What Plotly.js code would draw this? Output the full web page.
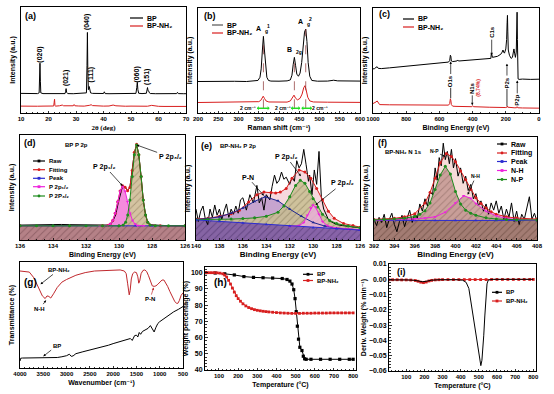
<!DOCTYPE html>
<html><head><meta charset="utf-8">
<script src="https://cdn.plot.ly/plotly-3.0.1.min.js"></script>
<style>html,body{margin:0;padding:0;background:#fff}#chart{width:554px;height:394px}</style>
</head><body><div id="chart"></div>
<script>
// ---------------- DATA ----------------
// (a) XRD, 2theta (deg) vs intensity (a.u., 0-100)
const xrdBP = [[10,18.5],[12,18.2],[14,18.4],[16,18.3],[16.6,19],[16.75,30],[16.9,47],[17.05,30],[17.2,19],[18,18.3],[20,18.2],[22,18.4],[24,18.2],[26,18.3],[26.2,20],[26.4,23],[26.6,19.5],[27,18.3],[29,18.2],[31,18.4],[33,18.5],[33.8,19],[34.0,45],[34.15,76],[34.3,40],[34.5,22],[34.8,25],[35.0,21],[35.3,19],[36,18.5],[38,18.3],[40,18.4],[40.3,20],[40.6,18.3],[42,18.2],[44,18.3],[46,18.2],[48,18.3],[50,18.2],[51.8,18.5],[52.1,24],[52.3,29],[52.5,22],[52.8,18.6],[54,18.3],[55.6,18.6],[55.85,22],[56.0,24],[56.2,21],[56.5,20.5],[56.7,19],[57,18.4],[59,18.2],[61,18.3],[63,18.2],[65,18.3],[66.6,18.3],[66.9,19.5],[67.2,18.3],[69,18.2],[70,18.2]];
const xrdNH = [[10,6.5],[12,6.3],[14,6.6],[16,6.4],[18,6.5],[20,6.4],[21.9,6.6],[22.05,10],[22.2,13],[22.35,7],[22.6,6.5],[24,6.8],[25,7.5],[25.5,6.8],[27,6.6],[29,6.8],[29.3,8],[29.6,6.8],[31,6.6],[33,6.5],[35,7.3],[35.5,7.8],[36,7],[38,6.6],[40,6.5],[42,6.6],[43.5,7.5],[44.5,6.8],[46,6.5],[48,6.4],[50,6.5],[52,6.4],[54,6.3],[56,6.4],[57.5,7.2],[58.5,6.6],[60,6.3],[62,6.2],[64,6.3],[66,6.2],[68,6.3],[70,6.2]];
const xrdPeakLabels = ['(020)','(021)','(040)','(111)','(060)','(151)'];
const xrdPeakPos = [[16.9,55],[26.4,33],[34.1,86],[35.3,36],[52.1,36],[55.8,34]];

// (b) Raman
const ramanBP = [[200,30],[230,30.3],[260,30],[290,30.2],[320,30],[340,30.3],[348,31],[353,34],[356,42],[359,60],[361.5,73],[364,60],[367,42],[370,34],[374,31],[380,30.4],[400,30.3],[420,30.6],[428,31.5],[432,36],[435,46],[438,53],[441,45],[444,37],[448,35],[452,38],[456,48],[460,66],[463,77],[466,80],[469,68],[472,48],[476,35],[481,31],[495,30.3],[520,30.4],[535,31.2],[545,30.6],[570,30.2],[600,30.4]];
const ramanNH = [[200,10],[250,10.2],[300,10],[335,10.2],[350,10.8],[355,12],[358,14.5],[361,16],[364,14],[368,11.5],[375,10.5],[400,10.3],[420,10.4],[428,11.5],[433,14.5],[437,17],[441,14],[446,12.5],[452,14],[457,18],[461,24],[464,26],[467,22],[471,15],[476,11.5],[485,10.5],[520,10.3],[560,10.2],[600,10.1]];
const ramanModeMain = ['A','B','A'];
const ramanModeSub = ['g','2g','g'];
const ramanModeSup = ['1','','2'];
const ramanModePos = [[361.5,73],[438,53],[466,80]];

// (c) XPS survey
const surveyBP = [[1000,42],[990,42.3],[982,43.5],[975,44],[968,42.5],[950,42.3],[900,43],[800,44.5],[700,46],[600,47.5],[545,48.5],[538,50],[534,55],[531,54],[528,49.5],[520,49],[495,49.5],[490,50.5],[485,49.5],[450,50],[400,50.5],[350,51],[300,51.5],[290,52],[287,57],[284,54],[280,53],[250,54],[230,56],[222,58],[217,60],[213,58],[208,57],[200,61],[195,70],[192,86],[190,93],[188,78],[185,60],[178,55],[168,52],[160,53],[155,58],[151,61],[147,57],[142,53],[137,58],[134,80],[132,96],[130,70],[128,40],[126,32.5],[120,32],[100,32.3],[50,32],[0,32.2]];
const surveyNH = [[1000,9],[990,9.5],[982,10.5],[975,11.5],[968,9.5],[960,8],[900,7.8],[800,7.6],[700,7.4],[600,7.3],[545,7.5],[538,9],[534,13.5],[531,12],[528,8],[520,6.5],[500,6.3],[450,6],[405,6],[400,7],[395,6],[300,5.5],[250,5.3],[200,5.2],[192,5.8],[190,6.5],[188,5.5],[150,5],[135,5],[132,6],[128,5],[100,4.8],[0,4.6]];

// (d) BP P 2p
const dBase = [[136,13.5],[126,13.5]];
const dPeak = [[136,13.5],[134,13.5],[132,13.5],[130,13.5],[129,13.5],[128,13.5],[126,13.5]];
const dRaw = [[136,14.2],[135.5,14.4],[135,14.3],[134.5,14.6],[134,14.5],[133.5,14.8],[133,14.6],[132.5,14.4],[132,14.2],[131.5,14],[131,13.8],[130.6,14.2],[130.4,17],[130.2,24],[130.05,35],[129.9,45],[129.78,51.5],[129.63,50.5],[129.48,47],[129.34,50],[129.2,66],[129.07,83],[128.93,91],[128.8,81],[128.66,60],[128.53,38],[128.39,24],[128.26,17],[128.1,14.5],[127.6,13.8],[127,13.6],[126.5,13.5],[126,13.5]];
const dFit = [[136,13.5],[131,13.6],[130.68,13.9],[130.53,15.2],[130.38,18.6],[130.23,25.5],[130.08,36.4],[129.93,46.7],[129.78,51.7],[129.63,50.3],[129.48,46.8],[129.34,50.1],[129.2,66.1],[129.07,83.6],[128.93,91.1],[128.8,81.3],[128.66,60.5],[128.53,38.1],[128.39,23.9],[128.26,16.9],[128.12,14.4],[127.5,13.5],[126,13.5]];
const dP12 = [[131.2,13.5],[130.68,13.9],[130.53,15.2],[130.38,18.6],[130.23,25.5],[130.08,36.4],[129.93,46.5],[129.78,51],[129.63,46.5],[129.48,36.4],[129.33,25.5],[129.18,18.6],[129.03,15.2],[128.88,13.9],[128.5,13.5]];
const dP32 = [[136,13.5],[135,13.5],[134,13.5],[133,13.5],[132,13.5],[131,13.5],[130,13.5],[129.74,14.4],[129.6,16.9],[129.47,23.9],[129.34,38.1],[129.2,60.5],[129.07,81.3],[128.93,90.5],[128.8,81.3],[128.66,60.5],[128.53,38.1],[128.39,23.9],[128.26,16.9],[128.12,14.4],[127.8,13.6],[127,13.5],[126,13.5]];

// (e) BP-NH2 P 2p
const eBase = [[140,19.5],[138,18],[136,16.5],[134,15],[132,13.5],[130,12],[128,11],[126,9.7]];
const eRaw = [[140,30],[139.8,18],[139.6,28],[139.4,33],[139.2,20],[139,15],[138.8,30],[138.6,22],[138.4,34],[138.2,24],[138,30],[137.8,20],[137.6,28],[137.4,35],[137.2,22],[137,30],[136.8,25],[136.6,33],[136.4,26],[136.2,39],[136,41],[135.7,29],[135.4,44],[135.1,36],[134.8,53],[134.6,36],[134.4,41],[134.2,29],[134,44],[133.7,39],[133.5,52],[133.3,63],[133.1,55],[132.9,58],[132.7,66],[132.5,59],[132.3,61],[132,54],[131.8,61],[131.6,57],[131.4,77],[131.2,70],[131,74],[130.8,88],[130.6,73],[130.4,57],[130.3,63],[130.1,44],[129.9,68],[129.7,54],[129.5,86],[129.3,42],[129.1,30],[128.9,25],[128.7,20],[128.5,18],[128.2,16],[128,15],[127.5,14],[127,13],[126.5,12.5],[126,12]];
const eFit = [[140,20.5],[139,21],[138,23],[137,25.5],[136.3,29],[135.5,37],[134.8,44],[134.2,46.5],[133.6,46],[133.2,45.6],[132.8,46.5],[132.3,50],[131.8,60],[131.2,68],[130.7,66],[130.2,60],[129.7,50],[129.2,39],[128.7,28],[128.2,21],[127.4,16],[126.6,14],[126,12.5]];
const ePN = [[140,20],[139,20.8],[138,22.5],[137,26],[136,31],[135,37.5],[134.1,42],[133,38],[132,30],[131,23],[130,17],[129,13.5],[128,11.5],[127,10.5],[126,9.8]];
const eP12 = [[140,19.8],[139,19.8],[138,20],[137,20.3],[136,20.8],[135,21.5],[134,23],[133,27],[132.5,33],[132,42],[131.5,53],[131.1,58],[130.7,55],[130.3,47],[130,40],[129.6,32],[129.2,25],[128.6,19],[128,16],[127,13.5],[126,12]];
const eP32 = [[132,13.3],[131.2,14],[130.8,17],[130.5,24],[130.2,31],[130,34],[129.8,32],[129.5,25],[129.2,18],[128.8,14],[128.2,12],[127,10.8],[126,10]];

// (f) BP-NH2 N 1s
const fBase = [[392,19],[394,19],[396,19],[398,19],[400,19],[402,19],[404,19],[406,19],[408,19]];
const fRaw = [[392,20],[392.25,14],[392.5,22],[392.75,17],[393,25],[393.25,12],[393.5,20],[393.75,26],[394,15],[394.25,8],[394.5,18],[394.75,24],[395,13],[395.25,22],[395.5,29],[395.75,17],[396,26],[396.25,21],[396.5,35],[396.75,28],[397,40],[397.25,33],[397.5,47],[397.75,44],[398,70],[398.2,58],[398.4,80],[398.6,72],[398.8,94],[399,78],[399.2,86],[399.4,74],[399.6,88],[399.8,70],[400,79],[400.25,62],[400.5,70],[400.75,55],[401,62],[401.25,48],[401.5,54],[401.75,40],[402,45],[402.25,33],[402.5,38],[402.75,28],[403,35],[403.25,25],[403.5,36],[403.75,29],[404,38],[404.25,26],[404.5,33],[404.75,20],[405,30],[405.25,22],[405.5,36],[405.75,18],[406,28],[406.25,15],[406.5,25],[406.75,20],[407,30],[407.25,42],[407.5,20],[407.75,26],[408,18]];
const fFit = [[392,20],[394,21],[395,22.5],[396,25.5],[397,36],[397.5,46],[398,60],[398.5,75],[399.1,84],[399.6,81],[400,76],[400.5,67],[401,58.6],[401.5,49],[402,41],[402.5,35.5],[403,31],[403.5,27.5],[404,25],[405,22.5],[406,21.3],[408,20.3]];
const fNH = [[392,19.2],[394,19.6],[396,20.5],[397,21.3],[398,22.5],[399,27],[400,36],[400.8,43],[401.5,40.5],[402,35.5],[403,28],[404,23.5],[405,21],[406,20],[408,19.4]];
const fNP = [[392,19.5],[393,19.8],[394,20.3],[395,21.2],[396,22.8],[396.5,25],[397,28.5],[397.5,36],[398,49],[398.5,63],[399,71.5],[399.5,64],[400,47],[400.5,35],[401,29],[401.5,26],[402,24],[403,21.5],[404,20.4],[405,19.9],[406,19.7],[408,19.5]];

// (g) FTIR
const ftirNH = [[4000,91.5],[3900,91.3],[3800,90.5],[3700,85],[3600,76],[3520,68],[3460,65.5],[3420,68],[3380,67.5],[3340,66],[3280,70],[3200,76],[3100,81],[3000,83.5],[2800,87.5],[2600,90],[2400,91.5],[2200,92],[2000,92.5],[1850,92.5],[1760,91.5],[1720,89],[1690,80],[1670,71],[1655,69],[1635,73],[1610,84],[1580,89],[1540,90.5],[1500,90],[1470,86],[1450,80],[1430,82],[1400,89],[1360,92],[1320,92.5],[1280,91],[1240,87],[1200,81],[1160,77.5],[1120,77],[1080,77.5],[1040,79],[1000,81],[950,83],[910,83],[870,80.5],[830,77],[780,72],[730,67],[680,63],[640,61],[610,61],[580,63.5],[540,68.5],[500,71]];
const ftirBP = [[4000,6.6],[3985,9.2],[3950,9.4],[3800,9.4],[3600,9.5],[3400,9.6],[3200,9.9],[3100,10.6],[3000,11.6],[2940,13],[2900,11],[2860,11.4],[2800,13.5],[2650,15.3],[2500,17],[2350,18.5],[2200,20],[2100,21.5],[2000,23],[1900,24.3],[1800,25.5],[1700,27],[1630,27.8],[1590,26],[1540,30.5],[1500,31],[1470,29.3],[1440,33.5],[1410,31.8],[1370,34.5],[1300,35.8],[1250,37.4],[1200,40],[1160,37.5],[1120,34],[1080,38.5],[1040,42],[1000,43.7],[900,46.9],[800,50],[700,53],[600,55.3],[550,56.8],[500,58]];

// (h) TGA
const tgaBP = [[30,100],[80,99.8],[130,99.3],[180,98.6],[230,97.6],[280,97.1],[330,96.9],[380,96.7],[430,96.4],[455,95.8],[470,94.8],[481,93],[490,89.5],[497,84],[503,76],[509,67],[515,59],[522,54],[533,52],[540,48.5],[547,46.9],[555,46.6],[580,46.6],[630,46.6],[680,46.6],[730,46.6],[780,46.6],[800,46.6]];
const tgaNH = [[30,100],[45,100],[60,100],[75,100],[90,99.9],[105,99.7],[120,99.3],[130,98.5],[140,97.3],[150,95.3],[160,93],[170,90.5],[180,88],[190,85.8],[200,84],[212,82.4],[225,80.8],[240,79.5],[255,78.5],[270,77.8],[285,77.2],[300,76.8],[315,76.5],[330,76.2],[345,76],[360,75.8],[380,75.6],[400,75.4],[420,75.2],[440,75.1],[460,75],[480,74.9],[500,74.9],[520,74.9],[540,75],[560,75],[580,75],[600,75.1],[620,75.1],[640,75.1],[660,75.1],[680,75.2],[700,75.2],[720,75.2],[740,75.2],[760,75.2],[780,75.2],[800,75.2]];

// (i) DTG
const dtgBP = [[5,-0.0004],[50,-0.0003],[100,-0.0004],[140,-0.0006],[170,-0.0012],[190,-0.0016],[210,-0.0013],[240,-0.0006],[280,-0.0003],[330,-0.0002],[380,-0.0003],[410,-0.0006],[430,-0.002],[445,-0.006],[459,-0.0166],[473,-0.028],[487,-0.038],[497,-0.047],[505,-0.054],[511,-0.0565],[517,-0.053],[522,-0.046],[527,-0.037],[533,-0.024],[539,-0.011],[545,-0.003],[552,-0.0005],[580,0],[650,0],[720,0],[800,0]];
const dtgNH = [[5,-0.0004],[25,-0.0003],[50,-0.0003],[75,-0.0004],[100,-0.0004],[125,-0.0005],[150,-0.0008],[165,-0.0013],[180,-0.0019],[195,-0.0022],[210,-0.0018],[225,-0.0011],[240,-0.0007],[260,-0.0004],[280,-0.0003],[300,-0.0002],[330,-0.0002],[360,-0.0002],[390,-0.0002],[420,-0.0002],[450,-0.0002],[480,-0.0002],[510,-0.0002],[540,-0.0002],[570,-0.0001],[600,-0.0001],[630,-0.0001],[660,-0.0001],[690,-0.0001],[720,-0.0001],[750,-0.0001],[780,-0.0001],[800,-0.0001]];

// ---------------- LAYOUT HELPERS ----------------
const W = 554, H = 394;
const FONT = 'Liberation Sans, DejaVu Sans, Arial, sans-serif';
const PX = x => x / W, PY = y => 1 - y / H;
const XS = p => p.map(d => d[0]), YS = p => p.map(d => d[1]);
const BLACK = '#000000', RED = '#d81e1e', BLUE = '#2b2bd0', MAG = '#ee22dd', GREEN = '#1e8c1e', NAVY = '#1c2690';
const NH2 = 'BP-NH\u2082';

const POS = {1:{x:[21,186],y:[7,113]}, 2:{x:[198,360],y:[8,113]}, 3:{x:[373,539],y:[8,113]},
             4:{x:[20,185],y:[135,240]}, 5:{x:[196,360],y:[137,240]}, 6:{x:[374,537],y:[137,240]},
             7:{x:[20,183],y:[262,368]}, 8:{x:[205,356],y:[267,370]}, 9:{x:[389,536],y:[264,371]}};

const sfx = n => n === 1 ? '' : String(n);
const traces = [], shapes = [], annotations = [];
const F = (size, color) => ({family:FONT, size:size, color:color || '#000', weight:'bold'});

function line(pairs, n, color, opts) {
  traces.push(Object.assign({type:'scatter', x:XS(pairs), y:YS(pairs), xaxis:'x'+sfx(n), yaxis:'y'+sfx(n),
    mode:'lines', line:{color:color, width:1}, showlegend:false, hoverinfo:'skip'}, opts || {}));
}
function lm(pairs, n, color, sym, opts) {
  line(pairs, n, color, Object.assign({mode:'lines+markers', marker:{color:color, size:3, symbol:sym || 'square'}}, opts || {}));
}
function area(pairs, n, color, hatch) {
  const t = {type:'scatter', x:XS(pairs), y:YS(pairs), xaxis:'x'+sfx(n), yaxis:'y'+sfx(n), mode:'lines',
    line:{width:0, color:color}, fill:'tozeroy', fillcolor:color, showlegend:false, hoverinfo:'skip'};
  if (hatch) t.fillpattern = {shape:'/', fgcolor:hatch, bgcolor:color, size:5, solidity:0.18};
  traces.push(t);
}
function axisObj(n, isX, range, title, tsize, extra) {
  const p = POS[n];
  const o = {
    domain: isX ? [PX(p.x[0]), PX(p.x[1])] : [PY(p.y[1]), PY(p.y[0])],
    anchor: (isX ? 'y' : 'x') + sfx(n), range: range,
    showline:true, mirror:true, linecolor:'#000', linewidth:1,
    ticks:'inside', ticklen:2.5, tickwidth:0.8, tickcolor:'#000',
    showgrid:false, zeroline:false, automargin:false,
    tickfont:F(6),
    title:{text:title, standoff:3, font:F(tsize)}
  };
  return Object.assign(o, extra || {});
}
function legendItem(x, y, len, color, label, sym, size) {
  shapes.push({type:'line', xref:'paper', yref:'paper', x0:PX(x), x1:PX(x+len), y0:PY(y), y1:PY(y), line:{color:color, width:1.2}});
  if (sym) shapes.push({type: sym === 'circle' ? 'circle' : 'rect', xref:'paper', yref:'paper',
    x0:PX(x+len/2-1.4), x1:PX(x+len/2+1.4), y0:PY(y+1.4), y1:PY(y-1.4), fillcolor:color, line:{width:0}});
  annotations.push({xref:'paper', yref:'paper', x:PX(x+len+2), y:PY(y), xanchor:'left', yanchor:'middle',
    text:label, showarrow:false, font:F(size || 6)});
}
function ptext(x, y, text, size) {
  annotations.push({xref:'paper', yref:'paper', x:PX(x), y:PY(y), xanchor:'left', yanchor:'middle',
    text:text, showarrow:false, font:F(size)});
}
function dnote(n, text, x, y, size, opts) {
  annotations.push(Object.assign({xref:'x'+sfx(n), yref:'y'+sfx(n), x:x, y:y, text:text, showarrow:false,
    font:F(size)}, opts || {}));
}
function darrow(n, text, x, y, tx, ty, size, opts) {
  annotations.push(Object.assign({xref:'x'+sfx(n), yref:'y'+sfx(n), axref:'x'+sfx(n), ayref:'y'+sfx(n),
    x:x, y:y, ax:tx, ay:ty, text:text, showarrow:true, arrowhead:2, arrowsize:0.7, arrowwidth:0.7, arrowcolor:'#000',
    font:F(size)}, opts || {}));
}
function dline(n, x0, y0, x1, y1, color, dash, width) {
  shapes.push({type:'line', xref:'x'+sfx(n), yref:'y'+sfx(n), x0:x0, y0:y0, x1:x1, y1:y1,
    line:{color:color, width:width || 0.8, dash:dash || 'solid'}});
}
function dArrowLine(n, x0, x1, y, color) {
  shapes.push({type:'line', xref:'x'+sfx(n), yref:'y'+sfx(n), x0:x0, y0:y, x1:x1, y1:y, line:{color:color, width:1.5}});
  shapes.push({type:'path', xref:'x'+sfx(n), yref:'y'+sfx(n), path:'M'+x0+','+y+' L'+(x0+4)+','+(y+2.2)+' L'+(x0+4)+','+(y-2.2)+' Z', fillcolor:color, line:{width:0}});
  shapes.push({type:'path', xref:'x'+sfx(n), yref:'y'+sfx(n), path:'M'+x1+','+y+' L'+(x1-4)+','+(y+2.2)+' L'+(x1-4)+','+(y-2.2)+' Z', fillcolor:color, line:{width:0}});
}

// ---------------- (a) ----------------
line(xrdBP, 1, BLACK); line(xrdNH, 1, RED);
xrdPeakLabels.forEach((t, i) => dnote(1, t, xrdPeakPos[i][0], xrdPeakPos[i][1], 7, {textangle:-90}));
ptext(23, 16, '(a)', 9);
legendItem(130, 18, 13, BLACK, 'BP', null, 7); legendItem(130, 26, 13, RED, NH2, null, 7);

// ---------------- (b) ----------------
ramanModePos.forEach(p => dline(2, p[0], 4.5, p[0], p[1], '#8a3030', 'dash', 0.7));
line(ramanBP, 2, BLACK); line(ramanNH, 2, RED);
ramanModePos.forEach((p, i) => {
  const lx = p[0] - 1, ly = p[1] + 7;
  dnote(2, ramanModeMain[i], lx, ly, 7, {xanchor:'right'});
  dnote(2, ramanModeSub[i], lx, ly, 5, {xanchor:'left', yshift:-2.5});
  if (ramanModeSup[i]) dnote(2, ramanModeSup[i], lx + 4, ly, 5, {xanchor:'left', yshift:3});
});
[[346,376,323],[430,452,411],[456,481,500]].forEach(a => {
  dArrowLine(2, a[0], a[1], 4.5, '#22dd22');
  dnote(2, '2 cm\u207B\u00B9', a[2], 4.5, 5);
});
ptext(202, 16, '(b)', 9);
legendItem(212, 25, 11, '#555', 'BP', null, 7); legendItem(212, 33, 11, RED, NH2, null, 7);

// ---------------- (c) ----------------
line(surveyBP, 3, BLACK); line(surveyNH, 3, RED);
darrow(3, 'C1s', 285, 55, 285, 77, 6, {textangle:-90});
darrow(3, 'O1s', 532, 49, 532, 30, 6, {textangle:-90});
dline(3, 532, 14, 532, 24, '#000');
darrow(3, 'N1s', 402, 7.5, 402, 24, 6, {textangle:-90});
dnote(3, '(8.74%)', 368, 24, 5, {textangle:-90, font:F(5, RED)});
darrow(3, 'P2s', 193, 47, 193, 29, 6, {textangle:-90});
dline(3, 193, 6.5, 193, 23, '#000');
darrow(3, 'P2p', 131, 31, 131, 12, 6, {textangle:-90});
ptext(377, 14, '(c)', 9);
legendItem(403, 19, 11, BLACK, 'BP', null, 7); legendItem(403, 27, 11, RED, NH2, null, 7);

// ---------------- (d) ----------------
area(dP12, 4, 'rgba(240,100,210,0.75)');
area(dP32, 4, 'rgba(205,185,145,0.85)', 'rgba(90,70,40,0.35)');
area(dBase, 4, 'rgba(178,122,132,0.9)', 'rgba(80,40,50,0.35)');
line(dRaw, 4, BLACK);
lm(dFit, 4, RED, 'circle');
lm(dPeak, 4, BLUE, 'triangle-up');
lm(dP12, 4, MAG, 'triangle-down');
lm(dP32, 4, GREEN, 'circle');
darrow(4, 'P 2p\u2081/\u2082', 129.78, 51.5, 130.85, 70, 7);
darrow(4, 'P 2p\u2083/\u2082', 128.93, 90.5, 126.9, 79, 7);
ptext(22, 143, '(d)', 9); ptext(63, 145, 'BP P 2p', 6);
legendItem(33, 161, 12, BLACK, 'Raw', 'square');
legendItem(33, 169.7, 12, RED, 'Fitting', 'circle');
legendItem(33, 178.3, 12, BLUE, 'Peak', 'square');
legendItem(33, 186.7, 12, MAG, 'P 2p\u2081/\u2082', 'square');
legendItem(33, 196, 12, GREEN, 'P 2P\u2083/\u2082', 'circle');

// ---------------- (e) ----------------
area(eFit, 5, 'rgba(245,212,218,0.9)');
area(ePN, 5, 'rgba(190,155,205,0.85)');
area(eP12, 5, 'rgba(200,190,145,0.85)', 'rgba(80,70,40,0.35)');
area(eP32, 5, 'rgba(232,175,215,0.85)');
area(eBase, 5, 'rgba(128,92,165,0.92)', 'rgba(40,20,70,0.35)');
line(eRaw, 5, BLACK);
lm(eFit, 5, RED, 'circle');
lm(ePN, 5, NAVY, 'triangle-up');
lm(eP12, 5, GREEN, 'circle');
lm(eP32, 5, MAG, 'triangle-down');
lm(eBase, 5, BLUE, 'triangle-up');
darrow(5, 'P-N', 134.2, 43, 135.6, 61, 7);
darrow(5, 'P 2p\u2081/\u2082', 131.05, 62, 132.3, 81, 7);
darrow(5, 'P 2p\u2083/\u2082', 129.8, 34, 127.5, 55, 7);
ptext(199, 146, '(e)', 9); ptext(218, 146, NH2 + ' P 2p', 6);

// ---------------- (f) ----------------
area(fFit, 6, 'rgba(245,215,212,0.9)');
area(fNP, 6, 'rgba(195,150,145,0.85)', 'rgba(80,50,40,0.3)');
area(fNH, 6, 'rgba(200,158,152,0.85)', 'rgba(80,50,40,0.3)');
area(fBase, 6, 'rgba(160,122,112,0.92)', 'rgba(60,30,20,0.35)');
line(fRaw, 6, BLACK);
lm(fFit, 6, RED, 'circle');
lm(fBase, 6, BLUE, 'triangle-up');
lm(fNH, 6, MAG, 'triangle-down');
lm(fNP, 6, GREEN, 'circle');
darrow(6, 'N-P', 399.0, 81, 397.9, 86, 5);
darrow(6, 'N-H', 401.2, 44, 402, 62, 5);
ptext(376, 143, '(f)', 9); ptext(383, 152, NH2 + ' N 1s', 6);
legendItem(497, 144, 10, BLACK, 'Raw', 'square', 7);
legendItem(497, 153, 10, RED, 'Fitting', 'circle', 7);
legendItem(497, 161.5, 10, BLUE, 'Peak', 'square', 7);
legendItem(497, 170.5, 10, MAG, 'N-H', 'square', 7);
legendItem(497, 179.5, 10, GREEN, 'N-P', 'circle', 7);

// ---------------- (g) ----------------
line(ftirNH, 7, '#c0282d'); line(ftirBP, 7, BLACK);
darrow(7, NH2, 3560, 79, 3170, 92.5, 6);
darrow(7, 'N-H', 3440, 64, 3571, 56, 6);
darrow(7, 'P-N', 1130, 76, 1209, 65, 6, {arrowcolor:'#c0282d'});
darrow(7, 'BP', 3500, 11, 3212, 21, 6);
ptext(22, 282, '(g)', 10);

// ---------------- (h) ----------------
lm(tgaBP, 8, BLACK, 'square', {marker:{color:BLACK, size:3.2, symbol:'square'}});
lm(tgaNH, 8, RED, 'square', {marker:{color:RED, size:2.8, symbol:'square'}});
ptext(212, 282, '(h)', 10);
legendItem(303, 274.3, 10, BLACK, 'BP', 'square');
legendItem(303, 280.5, 10, RED, NH2, 'square');

// ---------------- (i) ----------------
lm(dtgNH, 9, RED, 'square', {marker:{color:RED, size:2.8, symbol:'square'}});
line(dtgBP, 9, BLACK);
ptext(395, 272, '(i)', 9);
legendItem(492, 292.3, 10, BLACK, 'BP', 'square');
legendItem(492, 301, 10, RED, NH2, 'square');

// ---------------- AXES ----------------
const noY = {showticklabels:false, ticks:''};
const minor = {minor:{ticks:'inside', ticklen:1.5, tickcolor:'#000'}};
const layout = {
  width:W, height:H, margin:{l:0, r:0, t:0, b:0}, paper_bgcolor:'#fff', plot_bgcolor:'#fff', showlegend:false,
  shapes:shapes, annotations:annotations,
  xaxis: axisObj(1, true, [10,70], '2θ (deg)', 7, Object.assign({dtick:10, tick0:10}, minor)),
  yaxis: axisObj(1, false, [0,100], 'Intensity (a.u.)', 7, noY),
  xaxis2: axisObj(2, true, [200,600], 'Raman shift (cm\u207B\u00B9)', 7, Object.assign({dtick:50, tick0:200}, minor)),
  yaxis2: axisObj(2, false, [0,100], 'Intensity (a.u.)', 7, noY),
  xaxis3: axisObj(3, true, [1000,0], 'Binding Energy (eV)', 7, Object.assign({dtick:200, tick0:0}, minor)),
  yaxis3: axisObj(3, false, [0,100], 'Intensity (a.u.)', 7, noY),
  xaxis4: axisObj(4, true, [136,126], 'Binding Energy (eV)', 7, Object.assign({dtick:2, tick0:126}, minor)),
  yaxis4: axisObj(4, false, [0,100], 'Intensity (a.u.)', 7, noY),
  xaxis5: axisObj(5, true, [140,126], 'Binding Energy (eV)', 8, Object.assign({dtick:2, tick0:126}, minor)),
  yaxis5: axisObj(5, false, [0,100], 'Intensity (a.u.)', 7, noY),
  xaxis6: axisObj(6, true, [392,408], 'Binding Energy (eV)', 8, Object.assign({dtick:2, tick0:392}, minor)),
  yaxis6: axisObj(6, false, [0,100], 'Intensity (a.u.)', 7, noY),
  xaxis7: axisObj(7, true, [4000,500], 'Wavenumber (cm\u207B\u00B9)', 7, Object.assign({dtick:500, tick0:500}, minor)),
  yaxis7: axisObj(7, false, [0,100], 'Transmittance (%)', 7, noY),
  xaxis8: axisObj(8, true, [27,815], 'Temperature (°C)', 7, Object.assign({dtick:100, tick0:0}, minor)),
  yaxis8: axisObj(8, false, [40,103.5], 'Weight percentage (%)', 7, Object.assign({dtick:10, tick0:40, tickfont:F(7)}, minor)),
  xaxis9: axisObj(9, true, [5,815], 'Temperature (°C)', 7, Object.assign({dtick:100, tick0:0}, minor)),
  yaxis9: axisObj(9, false, [-0.06,0.01], 'Deriv. Weight (% min\u207B\u00B9)', 7, Object.assign({dtick:0.01, tick0:0, tickformat:'.2f', tickfont:F(7)}, minor))
};
layout.xaxis.title.font = {family:'Liberation Serif, serif', size:7, color:'#000', weight:'bold'};
layout.yaxis8.title.standoff = 1;
layout.yaxis9.title.standoff = 1;

Plotly.newPlot('chart', traces, layout, {staticPlot:true, displayModeBar:false});
</script>
</body></html>
